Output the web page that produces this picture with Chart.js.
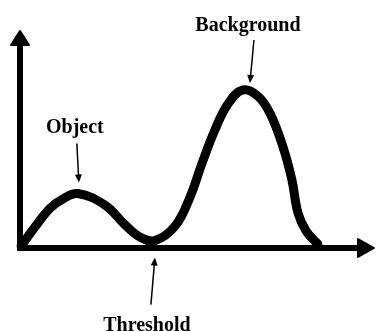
<!DOCTYPE html>
<html>
<head>
<meta charset="utf-8">
<script src="https://cdn.jsdelivr.net/npm/chart.js@4"></script>
<style>
  body { margin: 0; background: #fff; }
</style>
</head>
<body>
<canvas id="myChart" width="376" height="331"></canvas>
<script>
// grey level histogram (x: 0-100, y: 0-100)
var levels = [0.3, 4.2, 8.5, 12.1, 16.3, 23.9, 29.6, 33.8, 38.0, 43.7, 47.9, 51.3, 54.9, 58.6, 62.8,
              67.0, 70.4, 74.1, 76.6, 78.3, 80.6, 83.9];
var counts = [0.9, 9.6, 18.3, 22.5, 25.0, 19.7, 10.6, 5.0, 3.4, 10.1, 23.4, 39.0, 54.1, 66.1, 72.5,
              69.7, 61.9, 46.3, 31.2, 16.1, 7.8, 1.8];

// labels and the point each one points at
var labelTexts = ['Object', 'Background', 'Threshold'];
var labelPoints = [4, 14, 8];

function arrow(ctx, x1, y1, x2, y2) {
    var a = Math.atan2(y2 - y1, x2 - x1);
    ctx.lineWidth = 1.5;
    ctx.beginPath();
    ctx.moveTo(x1, y1);
    ctx.lineTo(x2 - 5 * Math.cos(a), y2 - 5 * Math.sin(a));
    ctx.stroke();
    ctx.beginPath();
    ctx.moveTo(x2, y2);
    ctx.lineTo(x2 - 8 * Math.cos(a) + 3.5 * Math.sin(a), y2 - 8 * Math.sin(a) - 3.5 * Math.cos(a));
    ctx.lineTo(x2 - 8 * Math.cos(a) - 3.5 * Math.sin(a), y2 - 8 * Math.sin(a) + 3.5 * Math.cos(a));
    ctx.closePath();
    ctx.fill();
}

// axes with arrow heads
var axesPlugin = {
    id: 'axes',
    beforeDatasetsDraw: function(chart) {
        var ctx = chart.ctx;
        var a = chart.chartArea;
        ctx.save();
        ctx.fillStyle = '#000';
        ctx.strokeStyle = '#000';
        ctx.lineWidth = 6;
        ctx.beginPath();
        ctx.moveTo(a.left, a.bottom + 2);
        ctx.lineTo(a.left, a.top + 14);
        ctx.moveTo(a.left - 3, a.bottom);
        ctx.lineTo(a.right - 16, a.bottom);
        ctx.stroke();

        ctx.lineJoin = 'round';
        ctx.lineWidth = 2;
        ctx.beginPath();
        ctx.moveTo(a.left, a.top + 1);
        ctx.lineTo(a.left + 9, a.top + 15);
        ctx.lineTo(a.left - 9, a.top + 15);
        ctx.closePath();
        ctx.fill();
        ctx.stroke();

        ctx.beginPath();
        ctx.moveTo(a.right - 1, a.bottom);
        ctx.lineTo(a.right - 17, a.bottom - 9);
        ctx.lineTo(a.right - 17, a.bottom + 9);
        ctx.closePath();
        ctx.fill();
        ctx.stroke();
        ctx.restore();
    }
};

// text labels with thin arrows
var labelPlugin = {
    id: 'labels',
    afterDatasetsDraw: function(chart) {
        var ctx = chart.ctx;
        var xs = chart.scales.x;
        var ys = chart.scales.y;
        ctx.save();
        ctx.fillStyle = '#000';
        ctx.strokeStyle = '#000';
        ctx.font = 'bold 20px "Liberation Serif"';
        ctx.textAlign = 'center';
        ctx.textBaseline = 'alphabetic';

        var p, px, py;
        // Object
        p = labelPoints[0];
        px = xs.getPixelForValue(levels[p]);
        py = ys.getPixelForValue(counts[p]);
        ctx.fillText(labelTexts[0], px - 3, py - 61);
        arrow(ctx, px - 1, py - 50, px + 1, py - 11);

        // Background
        p = labelPoints[1];
        px = xs.getPixelForValue(levels[p]);
        py = ys.getPixelForValue(counts[p]);
        ctx.fillText(labelTexts[1], px + 5, py - 59);
        arrow(ctx, px + 11, py - 50, px + 7, py - 7);

        // Threshold
        p = labelPoints[2];
        px = xs.getPixelForValue(levels[p]);
        py = ys.getPixelForValue(counts[p]);
        ctx.fillText(labelTexts[2], px - 8, py + 90);
        arrow(ctx, px - 4, py + 64, px, py + 17);
        ctx.restore();
    }
};

var ctx = document.getElementById('myChart').getContext('2d');

var chart = new Chart(ctx, {
    type: 'line',
    data: {
        datasets: [{
            data: levels.map(function(v, i) { return { x: v, y: counts[i] }; }),
            borderColor: '#000',
            borderWidth: 9,
            borderCapStyle: 'round',
            borderJoinStyle: 'round',
            pointRadius: 0,
            fill: false,
            tension: 0.4,
            clip: false
        }]
    },
    options: {
        responsive: false,
        animation: false,
        layout: { padding: { left: 20, top: 30, right: 1, bottom: 83 } },
        plugins: {
            legend: { display: false },
            tooltip: { enabled: false }
        },
        scales: {
            x: { type: 'linear', min: 0, max: 100, display: false },
            y: { min: 0, max: 100, display: false }
        }
    },
    plugins: [axesPlugin, labelPlugin]
});
</script>
</body>
</html>
